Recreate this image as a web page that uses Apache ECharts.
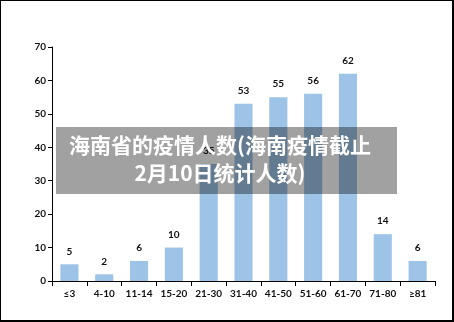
<!DOCTYPE html>
<html>
<head>
<meta charset="utf-8">
<script src="https://cdn.jsdelivr.net/npm/echarts@6/dist/echarts.min.js"></script>
<style>
  html, body { margin: 0; padding: 0; background: #fff; }
  #chart {
    width: 454px; height: 322px; box-sizing: border-box;
    border-top: 1px solid #000; border-left: 1px solid #000;
    border-right: 2px solid #000; border-bottom: 2px solid #000;
  }
</style>
</head>
<body>
<div id="chart"></div>
<script>
// Age groups and number of cases in each group
const ageGroups = ['≤3', '4-10', '11-14', '15-20', '21-30', '31-40', '41-50', '51-60', '61-70', '71-80', '≥81'];
const caseCounts = [5, 2, 6, 10, 35, 53, 55, 56, 62, 14, 6];
const yTicks = { min: 0, max: 70, interval: 10 };
const titleLines = ['海南省的疫情人数(海南疫情截止', '2月10日统计人数)'];

const chart = echarts.init(document.getElementById('chart'), null, { renderer: 'canvas' });
const labelFont = { fontFamily: 'Lato, "Liberation Sans", sans-serif', fontWeight: 'bold', fontSize: 10, color: '#111' };

chart.setOption({
  animation: false,
  grid: { left: 51, right: 17, top: 46, bottom: 39 },
  xAxis: {
    type: 'category',
    data: ageGroups,
    axisLine: { lineStyle: { color: '#000', width: 1 } },
    axisTick: { show: true, alignWithLabel: false, length: 5, lineStyle: { color: '#000' } },
    axisLabel: Object.assign({ margin: 8, interval: 0 }, labelFont)
  },
  yAxis: {
    type: 'value',
    min: yTicks.min, max: yTicks.max, interval: yTicks.interval,
    splitLine: { show: false },
    axisLine: { show: true, lineStyle: { color: '#000', width: 1 } },
    axisTick: { show: true, length: 4, lineStyle: { color: '#000' } },
    axisLabel: Object.assign({ margin: 6 }, labelFont)
  },
  series: [{
    type: 'bar',
    data: caseCounts,
    barWidth: '52%',
    itemStyle: { color: '#9DC3E6' },
    label: Object.assign({ show: true, position: 'top', distance: 8 }, labelFont)
  }],
  graphic: [{
    type: 'rect',
    shape: { x: 55, y: 126, width: 341, height: 67 },
    style: { fill: 'rgba(0,0,0,0.37)' },
    z: 100
  }, {
    type: 'text',
    x: 219, y: 158,
    style: {
      text: titleLines.join('\n'),
      fill: '#fff',
      font: 'bold 21px "Noto Sans CJK SC", sans-serif',
      lineHeight: 28,
      align: 'center',
      verticalAlign: 'middle'
    },
    z: 101
  }]
});
</script>
</body>
</html>
